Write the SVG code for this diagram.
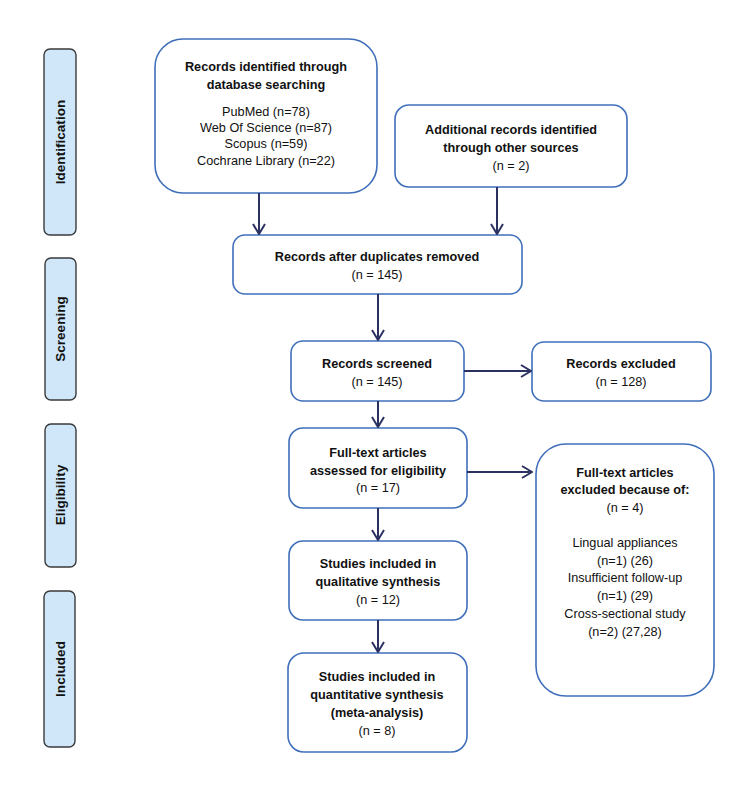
<svg xmlns="http://www.w3.org/2000/svg" width="756" height="787" viewBox="0 0 756 787">
<defs>
<marker id="ah" viewBox="0 0 12 14" refX="11" refY="7" markerWidth="12" markerHeight="14" markerUnits="userSpaceOnUse" orient="auto">
<path d="M1,1 L11,7 L1,13" fill="none" stroke="#2b3262" stroke-width="2"/>
</marker>
<style>
.box{fill:#fff;stroke:#3f6fba;stroke-width:1.6}
.side{fill:#cfe7f8;stroke:#3a3a3a;stroke-width:1.4}
text{font-family:"Liberation Sans",Arial,sans-serif;font-size:12.7px;fill:#111;text-anchor:middle}
.b{font-weight:bold}
.st{font-weight:bold;font-size:13.6px}
.conn{stroke:#2b3262;stroke-width:2;fill:none;marker-end:url(#ah)}
</style>
</defs>
<rect width="756" height="787" fill="#fff"/>
<g id="side-identification"><rect class="side" x="44" y="49" width="32" height="186" rx="6"/><text class="st" transform="translate(65,142) rotate(-90)">Identification</text></g>
<g id="side-screening"><rect class="side" x="45" y="258" width="31" height="142" rx="6"/><text class="st" transform="translate(65,329) rotate(-90)">Screening</text></g>
<g id="side-eligibility"><rect class="side" x="45" y="424" width="31" height="143" rx="6"/><text class="st" transform="translate(65,495) rotate(-90)">Eligibility</text></g>
<g id="side-included"><rect class="side" x="44" y="591" width="31" height="156" rx="6"/><text class="st" transform="translate(65,669) rotate(-90)">Included</text></g>

<g id="n-identified"><rect class="box" x="155" y="39" width="222" height="154" rx="28"/>
<text class="b" x="266" y="71">Records identified through</text>
<text class="b" x="266" y="89">database searching</text>
<text x="266" y="116">PubMed (n=78)</text>
<text x="266" y="132">Web Of Science (n=87)</text>
<text x="266" y="148">Scopus (n=59)</text>
<text x="266" y="165">Cochrane Library (n=22)</text></g>

<g id="n-additional"><rect class="box" x="395" y="105" width="232" height="82" rx="14"/>
<text class="b" x="511" y="134">Additional records identified</text>
<text class="b" x="511" y="152">through other sources</text>
<text x="511" y="170">(n = 2)</text></g>

<g id="n-duplicates"><rect class="box" x="233" y="235" width="289" height="59" rx="12"/>
<text class="b" x="377" y="261">Records after duplicates removed</text>
<text x="377" y="279">(n = 145)</text></g>

<g id="n-screened"><rect class="box" x="291" y="341" width="173" height="60" rx="12"/>
<text class="b" x="377" y="368">Records screened</text>
<text x="377" y="386">(n = 145)</text></g>

<g id="n-excluded"><rect class="box" x="532" y="342" width="179" height="59" rx="12"/>
<text class="b" x="621" y="368">Records excluded</text>
<text x="621" y="386">(n = 128)</text></g>

<g id="n-fulltext"><rect class="box" x="289" y="428" width="178" height="80" rx="14"/>
<text class="b" x="378" y="457">Full-text articles</text>
<text class="b" x="378" y="475">assessed for eligibility</text>
<text x="378" y="492">(n = 17)</text></g>

<g id="n-ftexcluded"><rect class="box" x="536" y="444" width="178" height="252" rx="30"/>
<text class="b" x="625" y="477">Full-text articles</text>
<text class="b" x="625" y="494">excluded because of:</text>
<text x="625" y="512">(n = 4)</text>
<text x="625" y="547">Lingual appliances</text>
<text x="625" y="565">(n=1) (26)</text>
<text x="625" y="582">Insufficient follow-up</text>
<text x="625" y="600">(n=1) (29)</text>
<text x="625" y="618">Cross-sectional study</text>
<text x="625" y="636">(n=2) (27,28)</text></g>

<g id="n-qualitative"><rect class="box" x="289" y="541" width="178" height="79" rx="14"/>
<text class="b" x="378" y="568">Studies included in</text>
<text class="b" x="378" y="586">qualitative synthesis</text>
<text x="378" y="604">(n = 12)</text></g>

<g id="n-quantitative"><rect class="box" x="288" y="653" width="179" height="99" rx="16"/>
<text class="b" x="377" y="681">Studies included in</text>
<text class="b" x="377" y="699">quantitative synthesis</text>
<text class="b" x="377" y="717">(meta-analysis)</text>
<text x="377" y="735">(n = 8)</text></g>

<g id="connectors">
<line class="conn" x1="259" y1="193" x2="259" y2="234"/>
<line class="conn" x1="497" y1="187" x2="497" y2="234"/>
<line class="conn" x1="378" y1="294" x2="378" y2="340"/>
<line class="conn" x1="464" y1="371" x2="531" y2="371"/>
<line class="conn" x1="378" y1="401" x2="378" y2="427"/>
<line class="conn" x1="467" y1="472" x2="532" y2="472"/>
<line class="conn" x1="378" y1="508" x2="378" y2="540"/>
<line class="conn" x1="378" y1="620" x2="378" y2="652"/>
</g>
</svg>
